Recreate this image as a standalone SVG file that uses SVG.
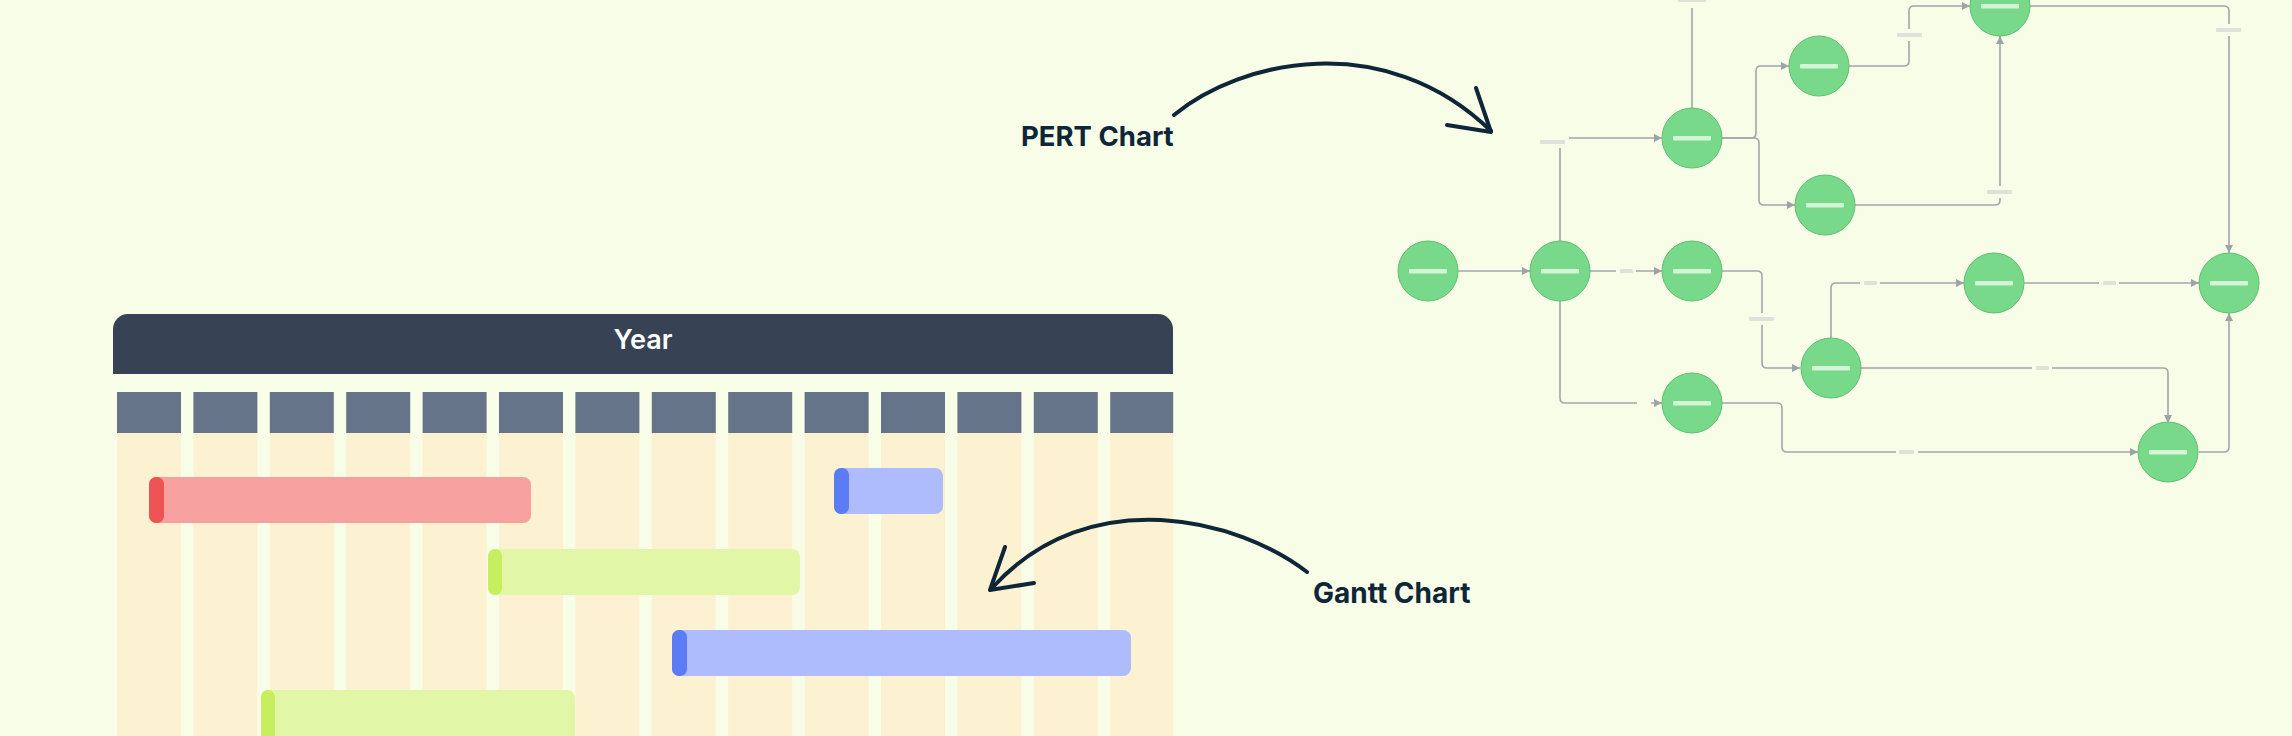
<svg xmlns="http://www.w3.org/2000/svg" width="2292" height="736" viewBox="0 0 2292 736">
<style>
.bg{fill:#f7fde6}
.col{fill:#fcf2d1}
.colh{fill:#667489}
.ttl{font-family:Inter,"Liberation Sans",sans-serif;font-weight:700;fill:#0f2638}
.yr{font-family:Inter,"Liberation Sans",sans-serif;font-weight:600;fill:#ffffff;font-size:27px}
.hand{fill:none;stroke:#0f2638;stroke-width:4;stroke-linecap:round;stroke-linejoin:round}
.node circle{fill:#78d98b;stroke:#5fbf72;stroke-width:1}
.node rect{fill:#d3f5d6}
.edge{fill:none;stroke:#a3a6ab;stroke-width:1.6}
.lh{fill:#f7fde6}
.lb{fill:#dfe2d9}
</style>
<defs>
<marker id="arr" viewBox="0 0 8 8" refX="8" refY="4" markerWidth="8" markerHeight="8" markerUnits="userSpaceOnUse" orient="auto">
<path d="M0,0 L8,4 L0,8 z" fill="#9ea2a9"/>
</marker>
</defs>
<rect class="bg" x="0" y="0" width="2292" height="736"/>

<g id="gantt">
<path d="M113,374 V329 A15,15 0 0 1 128,314 H1158 A15,15 0 0 1 1173,329 V374 Z" fill="#374254"/>
<text class="yr" x="643" y="349" text-anchor="middle">Year</text>
<g id="columns">
<rect class="col" x="117" y="433" width="64" height="303"/>
<rect class="col" x="193.4" y="433" width="64" height="303"/>
<rect class="col" x="269.8" y="433" width="64" height="303"/>
<rect class="col" x="346.2" y="433" width="64" height="303"/>
<rect class="col" x="422.6" y="433" width="64" height="303"/>
<rect class="col" x="499" y="433" width="64" height="303"/>
<rect class="col" x="575.4" y="433" width="64" height="303"/>
<rect class="col" x="651.8" y="433" width="64" height="303"/>
<rect class="col" x="728.2" y="433" width="64" height="303"/>
<rect class="col" x="804.6" y="433" width="64" height="303"/>
<rect class="col" x="881" y="433" width="64" height="303"/>
<rect class="col" x="957.4" y="433" width="64" height="303"/>
<rect class="col" x="1033.8" y="433" width="64" height="303"/>
<rect class="col" x="1110.2" y="433" width="63" height="303"/>
<rect class="colh" x="117" y="392" width="64" height="41"/>
<rect class="colh" x="193.4" y="392" width="64" height="41"/>
<rect class="colh" x="269.8" y="392" width="64" height="41"/>
<rect class="colh" x="346.2" y="392" width="64" height="41"/>
<rect class="colh" x="422.6" y="392" width="64" height="41"/>
<rect class="colh" x="499" y="392" width="64" height="41"/>
<rect class="colh" x="575.4" y="392" width="64" height="41"/>
<rect class="colh" x="651.8" y="392" width="64" height="41"/>
<rect class="colh" x="728.2" y="392" width="64" height="41"/>
<rect class="colh" x="804.6" y="392" width="64" height="41"/>
<rect class="colh" x="881" y="392" width="64" height="41"/>
<rect class="colh" x="957.4" y="392" width="64" height="41"/>
<rect class="colh" x="1033.8" y="392" width="64" height="41"/>
<rect class="colh" x="1110.2" y="392" width="63" height="41"/>
</g>
<g id="bar-red">
<rect x="149" y="477" width="382" height="46" rx="8" fill="#f6a1a0"/>
<rect x="149" y="477" width="15" height="46" rx="7" fill="#ef5454"/>
</g>
<g id="bar-blue-1">
<rect x="834" y="468" width="109" height="46" rx="8" fill="#aebcfd"/>
<rect x="834" y="468" width="15" height="46" rx="7" fill="#5c7cf6"/>
</g>
<g id="bar-green-1">
<rect x="488" y="549" width="312" height="46" rx="8" fill="#e2f6a8"/>
<rect x="488" y="549" width="14" height="46" rx="7" fill="#c6ee5f"/>
</g>
<g id="bar-blue-2">
<rect x="672" y="630" width="459" height="46" rx="8" fill="#aebcfd"/>
<rect x="672" y="630" width="15" height="46" rx="7" fill="#5c7cf6"/>
</g>
<g id="bar-green-2">
<rect x="261" y="690" width="314" height="56" rx="8" fill="#e2f6a8"/>
<rect x="261" y="690" width="14" height="56" rx="7" fill="#c6ee5f"/>
</g>
</g>

<g id="callouts">
<text class="ttl" x="1021" y="146" font-size="27.5">PERT Chart</text>
<path class="hand" d="M1174,115 C1240,60 1385,28 1491,131"/>
<path class="hand" d="M1476,88 L1491,132 L1447,125"/>
<text class="ttl" x="1313" y="603" font-size="28">Gantt Chart</text>
<path class="hand" d="M1307,572 C1240,520 1090,480 992,588"/>
<path class="hand" d="M1005,547 L990,590 L1034,583"/>
</g>

<g id="connectors">
<path class="edge" d="M1458,271 H1530" marker-end="url(#arr)"/>
<path class="edge" d="M1590,271 H1662" marker-end="url(#arr)"/>
<path class="edge" d="M1560,241 V143 Q1560,138 1565,138 H1662" marker-end="url(#arr)"/>
<path class="edge" d="M1560,301 V398 Q1560,403 1565,403 H1662" marker-end="url(#arr)"/>
<path class="edge" d="M1722,138 H1751 Q1756,138 1756,133 V71 Q1756,66 1761,66 H1789" marker-end="url(#arr)"/>
<path class="edge" d="M1722,138 H1754 Q1759,138 1759,143 V200 Q1759,205 1764,205 H1795" marker-end="url(#arr)"/>
<path class="edge" d="M1692,108 V-20"/>
<path class="edge" d="M1849,66 H1904 Q1909,66 1909,61 V11 Q1909,6 1914,6 H1970" marker-end="url(#arr)"/>
<path class="edge" d="M1855,205 H1995 Q2000,205 2000,200 V36" marker-end="url(#arr)"/>
<path class="edge" d="M2030,6 H2224 Q2229,6 2229,11 V253" marker-end="url(#arr)"/>
<path class="edge" d="M1722,271 H1757 Q1762,271 1762,276 V363 Q1762,368 1767,368 H1800" marker-end="url(#arr)"/>
<path class="edge" d="M1831,338 V288 Q1831,283 1836,283 H1964" marker-end="url(#arr)"/>
<path class="edge" d="M2024,283 H2199" marker-end="url(#arr)"/>
<path class="edge" d="M1861,368 H2163 Q2168,368 2168,373 V423" marker-end="url(#arr)"/>
<path class="edge" d="M1722,403 H1777 Q1782,403 1782,408 V447 Q1782,452 1787,452 H2138" marker-end="url(#arr)"/>
<path class="edge" d="M2199,452 H2224 Q2229,452 2229,447 V313" marker-end="url(#arr)"/>
<g id="edge-labels">
<rect class="lh" x="1616" y="266" width="20" height="10"/><rect class="lb" x="1620" y="269" width="13" height="4" rx="1"/>
<rect class="lh" x="1537" y="136" width="32" height="12"/><rect class="lb" x="1540" y="140" width="25" height="4" rx="1"/>
<rect class="lh" x="1637" y="398" width="14" height="10"/>
<rect class="lh" x="1676" y="-6" width="33" height="14"/><rect class="lb" x="1678" y="-3" width="28" height="5" rx="1"/>
<rect class="lh" x="1893" y="29" width="32" height="12"/><rect class="lb" x="1897" y="33" width="25" height="4" rx="1"/>
<rect class="lh" x="1984" y="186" width="32" height="12"/><rect class="lb" x="1987" y="190" width="25" height="4" rx="1"/>
<rect class="lh" x="2213" y="24" width="32" height="12"/><rect class="lb" x="2216" y="28" width="25" height="4" rx="1"/>
<rect class="lh" x="1746" y="313" width="32" height="12"/><rect class="lb" x="1749" y="317" width="25" height="4" rx="1"/>
<rect class="lh" x="1860" y="278" width="20" height="10"/><rect class="lb" x="1864" y="281" width="13" height="4" rx="1"/>
<rect class="lh" x="2099" y="278" width="20" height="10"/><rect class="lb" x="2103" y="281" width="13" height="4" rx="1"/>
<rect class="lh" x="2032" y="363" width="20" height="10"/><rect class="lb" x="2036" y="366" width="13" height="4" rx="1"/>
<rect class="lh" x="1896" y="447" width="22" height="10"/><rect class="lb" x="1899" y="450" width="15" height="4" rx="1"/>
</g>
</g>

<g id="node-A" class="node"><circle cx="1428" cy="271" r="30"/><rect x="1409" y="269" width="38" height="4.5" rx="1"/></g>
<g id="node-B" class="node"><circle cx="1560" cy="271" r="30"/><rect x="1541" y="269" width="38" height="4.5" rx="1"/></g>
<g id="node-C" class="node"><circle cx="1692" cy="271" r="30"/><rect x="1673" y="269" width="38" height="4.5" rx="1"/></g>
<g id="node-D" class="node"><circle cx="1692" cy="138" r="30"/><rect x="1673" y="136" width="38" height="4.5" rx="1"/></g>
<g id="node-E" class="node"><circle cx="1825" cy="205" r="30"/><rect x="1806" y="203" width="38" height="4.5" rx="1"/></g>
<g id="node-F" class="node"><circle cx="1819" cy="66" r="30"/><rect x="1800" y="64" width="38" height="4.5" rx="1"/></g>
<g id="node-T" class="node"><circle cx="2000" cy="6" r="30"/><rect x="1981" y="4" width="38" height="4.5" rx="1"/></g>
<g id="node-G" class="node"><circle cx="1692" cy="403" r="30"/><rect x="1673" y="401" width="38" height="4.5" rx="1"/></g>
<g id="node-H" class="node"><circle cx="1831" cy="368" r="30"/><rect x="1812" y="366" width="38" height="4.5" rx="1"/></g>
<g id="node-I" class="node"><circle cx="1994" cy="283" r="30"/><rect x="1975" y="281" width="38" height="4.5" rx="1"/></g>
<g id="node-Z" class="node"><circle cx="2229" cy="283" r="30"/><rect x="2210" y="281" width="38" height="4.5" rx="1"/></g>
<g id="node-K" class="node"><circle cx="2168" cy="452" r="30"/><rect x="2149" y="450" width="38" height="4.5" rx="1"/></g>
</svg>
